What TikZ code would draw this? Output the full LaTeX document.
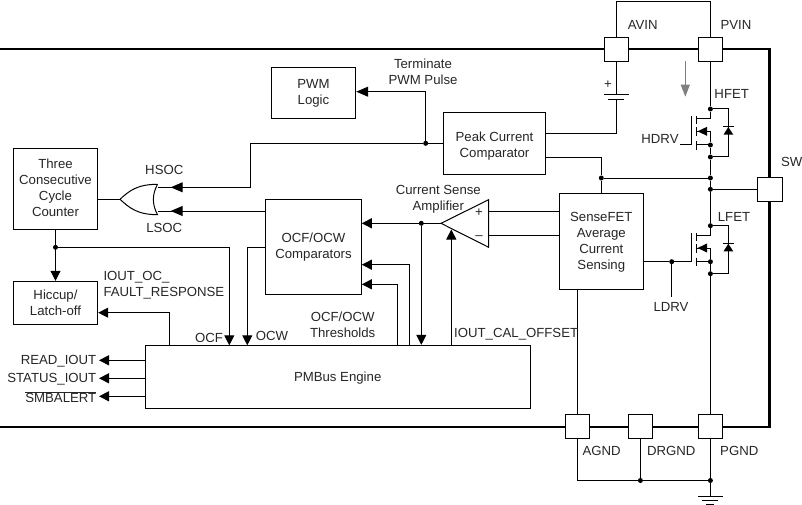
\documentclass[tikz,border=0pt]{standalone}
\usepackage{fontspec}
\setmainfont{Liberation Sans}
\usetikzlibrary{arrows.meta}
\tikzset{
	wire/.style={line width=1pt},
	rail/.style={line width=2.2pt},
	sig/.style={line width=1pt,-{Triangle[length=10pt,width=10pt]}},
	longsig/.style={line width=1pt,-{Triangle[length=12pt,width=10pt]}},
	blockbox/.style={draw,line width=1pt,fill=white,inner sep=0pt,align=center,text=black!85,
		execute at begin node={\rule{0pt}{11.5pt}}},
	pinbox/.style={draw,line width=1pt,fill=white,minimum size=24.4pt,inner sep=0pt},
	lbl/.style={inner sep=0pt,align=center,text=black!85,yshift=-0.7pt},
	dot/.style={circle,fill=black,inner sep=0pt,minimum size=5pt},
	every node/.append style={font=\fontsize{13.2}{16}\selectfont}
}
\begin{document}
\begin{tikzpicture}[x=1pt,y=-1pt]
	\useasboundingbox (0,0) rectangle (802,505);
	% package outline
	\coordinate (railtl) at (0,49);
	\coordinate (railtr) at (769.5,49);
	\coordinate (railbr) at (769.5,427);
	\coordinate (railbl) at (0,427);
	\draw[rail] (railtl) -- (railtr) -- (railbr) -- (railbl);

	% blocks
	\node[blockbox,minimum width=84.4pt,minimum height=50.6pt] (pwm) at (313.5,93) {PWM\\Logic};
	\node[blockbox,minimum width=102.4pt,minimum height=62pt] (peak) at (494.5,143.3) {\rule{0pt}{15.5pt}Peak Current\\Comparator};
	\node[blockbox,minimum width=84.4pt,minimum height=81pt] (counter) at (55.5,188.8) {Three\\Consecutive\\Cycle\\Counter\rule[-3pt]{0pt}{3pt}};
	\node[blockbox,minimum width=84.4pt,minimum height=43pt] (hiccup) at (55.5,302.8) {Hiccup/\\Latch-off};
	\node[blockbox,minimum width=95.6pt,minimum height=95pt] (ocf) at (313.5,246.8) {OCF/OCW\\Comparators};
	\node[blockbox,minimum width=84pt,minimum height=96.3pt] (sense) at (601.3,241.8) {SenseFET\\Average\\Current\\Sensing};
	\node[blockbox,minimum width=384.7pt,minimum height=62.7pt] (pmbus) at (337.7,376.7) {PMBus Engine};

	% pins
	\node[pinbox] (avin) at (616.4,49.5) {};
	\node[pinbox] (pvin) at (710.4,49.5) {};
	\node[pinbox] (sw) at (769.9,189.3) {};
	\node[pinbox] (agnd) at (577.6,426.5) {};
	\node[pinbox] (drgnd) at (640.4,426.5) {};
	\node[pinbox] (pgnd) at (710.4,426.5) {};
	\coordinate (vintop) at (710.4,1.5);
	\draw[wire] (avin.north) |- (vintop) -- (pvin.north);

	% battery between AVIN and the peak comparator
	\coordinate (battop) at (616.4,94.3);
	\coordinate (batbot) at (616.4,100);
	\draw[wire] (avin.south) -- (battop);
	\draw[wire] ([xshift=-12.3pt]battop) -- ([xshift=12.3pt]battop);
	\draw[wire] ([xshift=-8pt]batbot) -- ([xshift=8pt]batbot);
	\draw[wire] (batbot) |- (peak.east |- 0,133.3);
	\node[lbl] (batplus) at (608,84) {+};

	% current direction
	\coordinate (flowa) at (685.3,61.3);
	\coordinate (flowb) at (685.3,96.7);
	\draw[line width=1pt,black!50,-{Triangle[length=12pt,width=9pt]}] (flowa) -- (flowb);

	% high side and low side FET
	\foreach \fetname/\fety in {h/0,l/116.7}{
		\begin{scope}[shift={(0,\fety)}]
			\node[dot] (\fetname d) at (710.4,109) {};
			\node[dot] (\fetname s) at (710.4,145) {};
			\node[dot] (\fetname b) at (710.4,157) {};
			\coordinate (\fetname gt) at (691.4,116.3);
			\coordinate (\fetname gb) at (691.4,145);
			\coordinate (\fetname dio) at (728.3,131);
			\coordinate (\fetname dc) at (696.4,119);
			\coordinate (\fetname bc) at (696.4,131.3);
			\coordinate (\fetname sc) at (696.4,145);
			\draw[wire] (\fetname gt) -- (\fetname gb);
			\draw[wire] (696.4,116.3) -- (696.4,124);
			\draw[wire] (696.4,127.3) -- (696.4,136);
			\draw[wire] (696.4,141) -- (696.4,149.7);
			\draw[wire] (\fetname d) |- (\fetname dc);
			\draw[wire] (\fetname bc) -| (\fetname s);
			\draw[wire] (\fetname sc) -- (\fetname s) -- (\fetname b);
			\draw[wire] (\fetname d) -| (\fetname dio) |- (\fetname b);
			\fill (697.6,131.3) -- (707,126.8) -- (707,135.8) -- cycle;
			\fill (728.3,127) -- (733.3,134.7) -- (723.5,134.7) -- cycle;
			\draw[wire] (723.3,127) -- (733.5,127);
		\end{scope}
	}
	\draw[wire] (pvin.south) -- (hd);
	\node[dot] (jfb) at (710.4,178) {};
	\node[dot] (jsw) at (710.4,189.3) {};
	\draw[wire] (hb) -- (jfb) -- (jsw) -- (ld);
	\draw[wire] (lb) -- (pgnd.north);
	\draw[wire] (jsw) -- (sw.west);
	\coordinate (hdrvend) at (680,145);
	\draw[wire] (hdrvend) -- (hgb);

	% peak comparator and sense block feedback
	\node[dot] (jpeak) at (601.3,178) {};
	\draw[wire] (peak.east |- 0,157.3) -| (jpeak);
	\draw[wire] (jpeak) -- (jfb);
	\draw[wire] (jpeak) -- (sense.north);

	% low side gate
	\node[dot] (jldrv) at (671.7,261.7) {};
	\coordinate (ldrvend) at (671.7,296.7);
	\draw[wire] (sense.east |- jldrv) -- (jldrv) -- (lgb);
	\draw[wire] (jldrv) -- (ldrvend);

	% ground
	\node[dot] (jdrgnd) at (640.4,480.5) {};
	\node[dot] (jgnd) at (710.4,480.5) {};
	\coordinate (gndtop) at (710.4,496);
	\draw[wire] (sense.south -| agnd) -- (agnd.north);
	\draw[wire] (agnd.south) |- (jdrgnd) -- (jgnd) -- (gndtop);
	\draw[wire] (drgnd.south) -- (jdrgnd);
	\draw[wire] (pgnd.south) -- (jgnd);
	\draw[wire] ([xshift=-12.3pt]gndtop) -- ([xshift=12.3pt]gndtop);
	\draw[wire] ([xshift=-8pt,yshift=-4pt]gndtop) -- ([xshift=8pt,yshift=-4pt]gndtop);
	\draw[wire] ([xshift=-4pt,yshift=-8pt]gndtop) -- ([xshift=4pt,yshift=-8pt]gndtop);

	% terminate path
	\node[dot] (jterm) at (425.7,143.3) {};
	\coordinate (hsbend) at (250.7,187.3);
	\draw[wire] (peak.west) -- (jterm) -| (hsbend);
	\draw[longsig] (jterm) |- (pwm.east |- 0,91.7);

	% OR gate
	\coordinate (orhs) at (157.5,187.3);
	\coordinate (orls) at (157.5,211);
	\coordinate (orout) at (120,199.3);
	\coordinate (hstip) at (170.7,187.3);
	\coordinate (lstip) at (170.7,211);
	\draw[wire] (157.5,184.3) .. controls (137,184.3) and (129,191) .. (orout)
		.. controls (129,207.5) and (137,214.7) .. (157.5,214.7)
		.. controls (152,204.5) and (152,194.5) .. (157.5,184.3);
	\draw[wire] (counter.east |- orout) -- (orout);
	\draw[wire] (hsbend) -- (orhs);
	\draw[longsig] (hsbend) -- (hstip);
	\draw[wire] (ocf.west |- orls) -- (orls);
	\draw[longsig] (ocf.west |- orls) -- (lstip);

	% counter and hiccup
	\node[dot] (jcount) at (55.5,247.3) {};
	\coordinate (ocfin) at (229.3,345.3);
	\coordinate (ocwin) at (247.3,345.3);
	\coordinate (hicout) at (169.3,345.3);
	\draw[sig] (counter.south) -- (hiccup.north);
	\draw[sig] (jcount) -| (ocfin);
	\draw[sig] (ocf.west |- jcount) -| (ocwin);
	\draw[sig] (hicout) |- (hiccup.east |- 0,312.7);

	% amplifier
	\coordinate (amptip) at (441,223.3);
	\coordinate (ampt) at (488.7,199.7);
	\coordinate (ampb) at (488.7,247.3);
	\coordinate (ampp) at (488.7,211.3);
	\coordinate (ampm) at (488.7,235.3);
	\coordinate (ampcal) at (451.3,229.5);
	\node[dot] (jamp) at (421.3,223.3) {};
	\draw[wire,fill=white] (amptip) -- (ampt) -- (ampb) -- cycle;
	\draw[wire] (ampp) -- (sense.west |- ampp);
	\draw[wire] (ampm) -- (sense.west |- ampm);
	\draw[sig] (amptip) -- (ocf.east |- amptip);
	\draw[sig] (jamp) -- (jamp |- pmbus.north);
	\draw[sig] (ampcal |- pmbus.north) -- (ampcal);
	\node[lbl] (ampplus) at (479,211.5) {+};
	\node[lbl] (ampminus) at (479,236.5) {--};

	% thresholds
	\coordinate (thra) at (409.7,345.3);
	\coordinate (thrb) at (397.7,345.3);
	\draw[sig] (thra) |- (ocf.east |- 0,264.7);
	\draw[sig] (thrb) |- (ocf.east |- 0,284.3);

	% status outputs
	\coordinate (outa) at (99,360.3);
	\coordinate (outb) at (99,378.3);
	\coordinate (outc) at (99,396.3);
	\draw[sig] (pmbus.west |- outa) -- (outa);
	\draw[sig] (pmbus.west |- outb) -- (outb);
	\draw[sig] (pmbus.west |- outc) -- (outc);
	\node[lbl,anchor=east] (readlbl) at (96.5,360.3) {READ\_IOUT};
	\node[lbl,anchor=east] (statuslbl) at (96.5,378.3) {STATUS\_IOUT};
	\node[lbl,anchor=east] (smblbl) at (96.5,396.3) {$\overline{\mbox{SMBALERT}}$};

	% labels
	\node[lbl] (avinlbl) at (642.7,24) {AVIN};
	\node[lbl] (pvinlbl) at (736,24) {PVIN};
	\node[lbl] (hfetlbl) at (731.7,93) {HFET};
	\node[lbl] (hdrvlbl) at (660,138) {HDRV};
	\node[lbl] (swlbl) at (791.7,161.7) {SW};
	\node[lbl] (lfetlbl) at (734,216) {LFET};
	\node[lbl] (ldrvlbl) at (671,306) {LDRV};
	\node[lbl] (agndlbl) at (601.7,450) {AGND};
	\node[lbl] (drgndlbl) at (671.3,450) {DRGND};
	\node[lbl] (pgndlbl) at (739.3,450) {PGND};
	\node[lbl] (termlbl) at (423,70.7) {Terminate\\PWM Pulse};
	\node[lbl] (hsoclbl) at (164.3,169) {HSOC};
	\node[lbl] (lsoclbl) at (164.3,227.7) {LSOC};
	\node[lbl,align=left,anchor=west] (faultlbl) at (103.3,285) {IOUT\_OC\_\\FAULT\_RESPONSE};
	\node[lbl] (ocflbl) at (209,337) {OCF};
	\node[lbl] (ocwlbl) at (272,335) {OCW};
	\node[lbl] (thrlbl) at (342.7,324.2) {OCF/OCW\\Thresholds};
	\node[lbl] (amplbl) at (438.3,198.5) {Current Sense\\Amplifier};
	\node[lbl,anchor=west] (callbl) at (454,333.3) {IOUT\_CAL\_OFFSET};
\end{tikzpicture}
\end{document}
